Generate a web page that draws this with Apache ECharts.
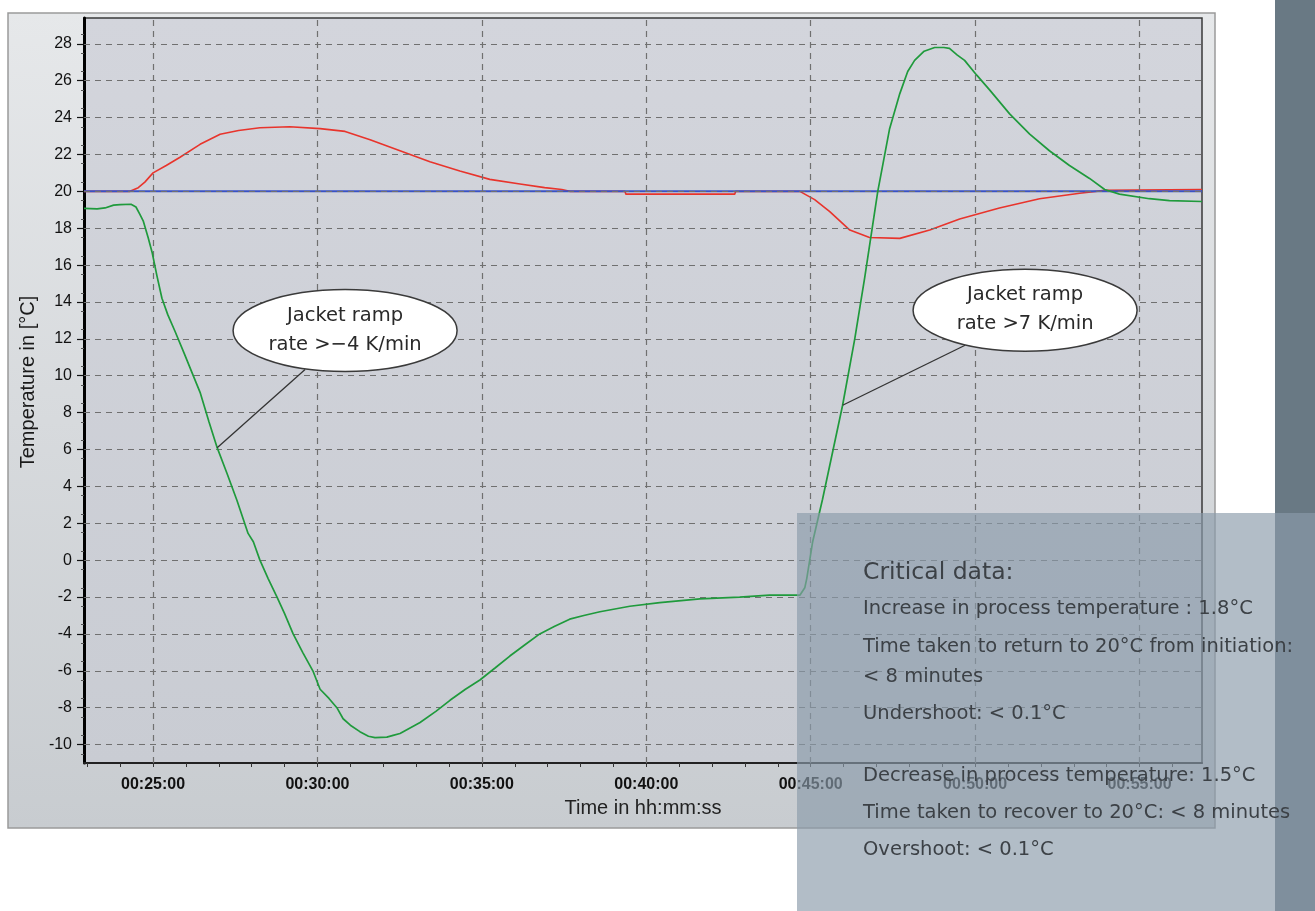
<!DOCTYPE html>
<html>
<head>
<meta charset="utf-8">
<script src="https://cdn.jsdelivr.net/npm/echarts@6/dist/echarts.min.js"></script>
<style>
html,body{margin:0;padding:0;background:#ffffff;}
#main{width:1315px;height:911px;}
</style>
</head>
<body>
<div id="main"></div>
<script>
// ---- data (time in minutes, temperature in °C) ----
const jacketTime = [22.90,23.30,23.54,23.80,24.00,24.33,24.48,24.60,24.70,24.85,24.97,25.12,25.27,25.45,25.67,25.95,26.20,26.43,26.70,26.95,27.25,27.55,27.89,28.05,28.25,28.50,28.77,29.00,29.26,29.55,29.86,30.08,30.35,30.59,30.78,31.00,31.29,31.55,31.75,32.11,32.30,32.51,33.12,33.60,34.03,34.50,34.94,35.40,35.85,36.30,36.76,37.20,37.67,38.10,38.59,39.50,40.41,41.63,42.84,43.75,44.67,44.82,44.88,45.06,45.36,45.97,46.34,46.64,47.04,47.40,47.71,47.95,48.16,48.45,48.77,49.05,49.22,49.45,49.68,50.05,50.44,51.05,51.66,52.26,52.87,53.48,53.94,54.39,55.30,55.91,56.90];
const jacketTemp = [19.08,19.05,19.10,19.25,19.28,19.30,19.15,18.75,18.40,17.50,16.70,15.40,14.20,13.30,12.40,11.20,10.10,9.10,7.50,6.10,4.70,3.25,1.45,1.00,0.00,-1.00,-2.00,-2.90,-4.00,-5.00,-6.00,-7.00,-7.50,-8.00,-8.60,-8.95,-9.30,-9.55,-9.62,-9.60,-9.50,-9.40,-8.80,-8.20,-7.60,-7.00,-6.50,-5.85,-5.20,-4.60,-4.00,-3.60,-3.20,-3.00,-2.80,-2.50,-2.30,-2.10,-2.00,-1.90,-1.90,-1.50,-1.00,1.00,3.30,8.40,12.00,15.30,20.00,23.40,25.30,26.50,27.10,27.60,27.80,27.80,27.75,27.40,27.10,26.30,25.50,24.20,23.10,22.20,21.40,20.70,20.10,19.85,19.60,19.50,19.45];

const processTime = [22.90,24.30,24.55,24.75,25.00,25.40,25.82,26.43,27.04,27.60,28.25,29.16,30.08,30.84,31.60,32.51,33.42,34.33,35.24,36.16,36.91,37.43,37.67,39.35,39.38,42.69,42.72,44.67,45.12,45.58,46.19,46.79,47.71,48.62,49.53,50.74,51.96,53.18,53.94,56.90];
const processTemp = [20.00,20.00,20.20,20.50,21.00,21.40,21.85,22.55,23.10,23.30,23.45,23.50,23.40,23.25,22.80,22.20,21.60,21.10,20.65,20.40,20.20,20.10,20.00,20.00,19.85,19.85,20.00,20.00,19.55,18.90,17.90,17.50,17.45,17.90,18.50,19.10,19.60,19.90,20.05,20.10];

const setpointTime = [22.90,56.90];
const setpointTemp = [20,20];

// ---- axes / ticks ----
const xTickMinutes = [25,30,35,40,45,50,55];
const xTickLabels = ['00:25:00','00:30:00','00:35:00','00:40:00','00:45:00','00:50:00','00:55:00'];
const xMinuteTicks = [23,24,25,26,27,28,29,30,31,32,33,34,35,36,37,38,39,40,41,42,43,44,45,46,47,48,49,50,51,52,53,54,55,56];
const yTickValues = [-10,-8,-6,-4,-2,0,2,4,6,8,10,12,14,16,18,20,22,24,26,28];
const yMinorTicks = [-10.5,-9.5,-8.5,-7.5,-6.5,-5.5,-4.5,-3.5,-2.5,-1.5,-0.5,0.5,1.5,2.5,3.5,4.5,5.5,6.5,7.5,8.5,9.5,10.5,11.5,12.5,13.5,14.5,15.5,16.5,17.5,18.5,19.5,20.5,21.5,22.5,23.5,24.5,25.5,26.5,27.5,28.5];

// ---- texts ----
const xAxisTitle = 'Time in hh:mm:ss';
const yAxisTitle = 'Temperature in [°C]';
const callout1Lines = ['Jacket ramp','rate >−4 K/min'];
const callout2Lines = ['Jacket ramp','rate >7 K/min'];
const criticalTitle = 'Critical data:';
const criticalLines = [
  'Increase in process temperature : 1.8°C',
  'Time taken to return to 20°C from initiation:',
  '< 8 minutes',
  'Undershoot: < 0.1°C',
  'Decrease in process temperature: 1.5°C',
  'Time taken to recover to 20°C: < 8 minutes',
  'Overshoot: < 0.1°C'
];

function pairs(xs, ys){ return xs.map((x,i)=>[x, ys[i]]); }

const chart = echarts.init(document.getElementById('main'), null, {renderer:'canvas'});

const gridLineStyle = {type:[6,5], color:'#707070', width:1.2};

const option = {
  animation:false,
  backgroundColor:'#ffffff',
  grid:{
    left:84, right:113, top:18, bottom:148,
    show:true,
    backgroundColor:new echarts.graphic.LinearGradient(0,0,0,1,[{offset:0,color:'#d3d5dc'},{offset:1,color:'#c9ccd3'}]),
    borderColor:'#3a3a3a', borderWidth:1.5
  },
  xAxis:[{
    type:'value', min:22.9, max:56.9,
    axisLine:{show:true, onZero:false, lineStyle:{color:'#222', width:2}},
    axisTick:{show:true, customValues:xMinuteTicks, length:4, lineStyle:{color:'#333', width:1}},
    axisLabel:{customValues:xTickMinutes, margin:14, color:'#111',
      fontFamily:'Liberation Sans', fontWeight:'bold', fontSize:16,
      formatter:function(v){ const i = xTickMinutes.indexOf(Math.round(v)); return i>=0 ? xTickLabels[i] : ''; }},
    splitLine:{show:false},
    name:xAxisTitle, nameLocation:'middle', nameGap:35,
    nameTextStyle:{color:'#222', fontFamily:'Liberation Sans', fontSize:20}
  }],
  yAxis:[{
    type:'value', min:-11, max:29.4,
    axisLine:{show:true, onZero:false, lineStyle:{color:'#000', width:3}},
    axisTick:{show:true, customValues:yTickValues, length:7, lineStyle:{color:'#111', width:1.2}},
    axisLabel:{customValues:yTickValues, margin:12, color:'#111', fontFamily:'Liberation Sans', fontSize:16},
    splitLine:{show:false}
  },{
    type:'value', min:-11, max:29.4, position:'left',
    axisLine:{show:false},
    axisTick:{show:true, customValues:yMinorTicks, length:3, lineStyle:{color:'#555', width:1}},
    axisLabel:{show:false},
    splitLine:{show:false}
  }],
  series:[
    {
      name:'grid', type:'line', data:[], silent:true, z:1,
      markLine:{
        silent:true, symbol:'none', label:{show:false}, lineStyle:gridLineStyle,
        emphasis:{disabled:true},
        data:[].concat(yTickValues.map(v=>({yAxis:v})), xTickMinutes.map(v=>({xAxis:v})))
      }
    },
    {name:'Process', type:'line', data:pairs(processTime, processTemp), showSymbol:false,
     lineStyle:{color:'#e8342c', width:1.6}, itemStyle:{color:'#e8342c'}, z:3},
    {name:'Setpoint', type:'line', data:pairs(setpointTime, setpointTemp), showSymbol:false,
     lineStyle:{color:'#3a52c4', width:2}, itemStyle:{color:'#3a52c4'}, z:4},
    {name:'Jacket', type:'line', data:pairs(jacketTime, jacketTemp), showSymbol:false,
     lineStyle:{color:'#1f9a3c', width:1.7}, itemStyle:{color:'#1f9a3c'}, z:5}
  ]
};
chart.setOption(option);

// ---- annotations (callouts anchored in data coordinates) ----
function px(t, v){ return chart.convertToPixel({gridIndex:0}, [t, v]); }

function callout(id, lines, center, target, lead){
  const c = px(center[0], center[1]);
  const tg = px(target[0], target[1]);
  return {
    type:'group', id:id, z:50,
    children:[
      {type:'line', z:50, shape:{x1:c[0]+lead[0], y1:c[1]+lead[1], x2:tg[0], y2:tg[1]},
       style:{stroke:'#333', lineWidth:1.3}},
      {type:'ellipse', z:51, shape:{cx:c[0], cy:c[1], rx:112, ry:41},
       style:{fill:'#ffffff', stroke:'#3a3a3a', lineWidth:1.5}},
      {type:'text', z:52, x:c[0], y:c[1]-15,
       style:{text:lines[0], fill:'#2a2a2a', font:'19.5px "DejaVu Sans"', align:'center', verticalAlign:'middle'}},
      {type:'text', z:52, x:c[0], y:c[1]+14,
       style:{text:lines[1], fill:'#2a2a2a', font:'19.5px "DejaVu Sans"', align:'center', verticalAlign:'middle'}}
    ]
  };
}

const graphics = [
  {type:'rect', z:-10, shape:{x:8, y:13, width:1207, height:815},
   style:{fill:new echarts.graphic.LinearGradient(0,0,0,1,[{offset:0,color:'#e6e8ea'},{offset:1,color:'#c8ccd0'}]),
          stroke:'#9a9a9a', lineWidth:1.5}},
  {type:'text', z:5, x:28, y:382, rotation:Math.PI/2,
   style:{text:yAxisTitle, fill:'#1a1a1a', font:'20px "Liberation Sans"', align:'center', verticalAlign:'middle'}},
  callout('c1', callout1Lines, [30.84, 12.45], [26.95, 6.10], [-40, 39]),
  callout('c2', callout2Lines, [51.52, 13.55], [45.97, 8.40], [-60, 35]),
  {type:'rect', z:90, shape:{x:1275, y:0, width:40, height:911}, style:{fill:'#697984'}},
  {type:'rect', z:100, shape:{x:797, y:513, width:518, height:398}, style:{fill:'rgba(138,155,170,0.66)'}},
  {type:'text', z:101, x:863, y:573,
   style:{text:criticalTitle, fill:'#3c4146', font:'23.5px "DejaVu Sans"', verticalAlign:'middle'}}
];
const lineY = [609, 647, 677, 714, 776, 813, 850];
criticalLines.forEach((t,i)=>{
  graphics.push({type:'text', z:101, x:863, y:lineY[i],
    style:{text:t, fill:'#3c4146', font:'19.5px "DejaVu Sans"', verticalAlign:'middle'}});
});
chart.setOption({graphic:graphics});
</script>
</body>
</html>
